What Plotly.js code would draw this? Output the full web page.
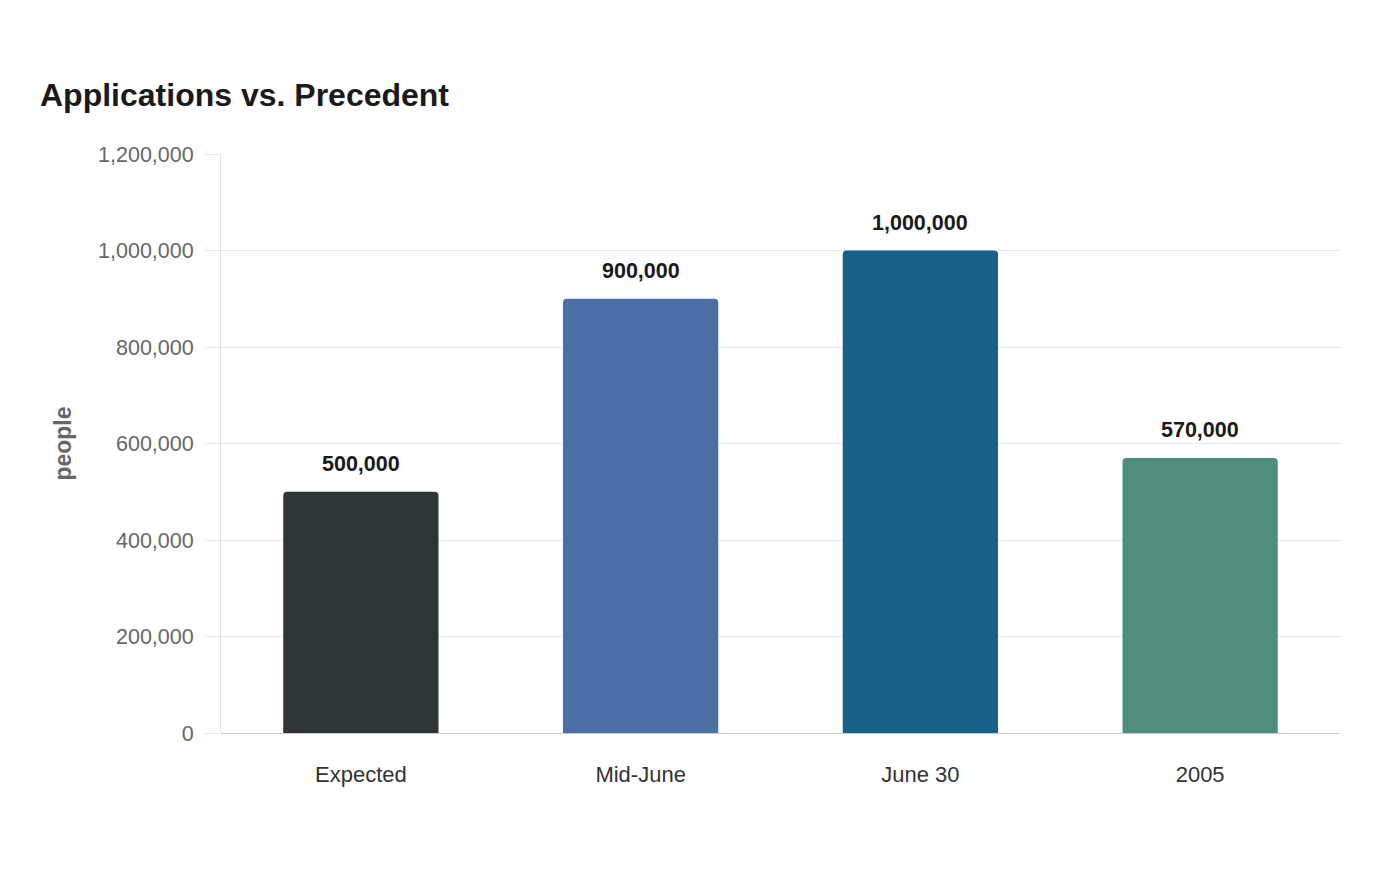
<!DOCTYPE html>
<html>
<head>
<meta charset="utf-8">
<script src="https://cdn.plot.ly/plotly-3.0.1.min.js"></script>
<style>
  html, body { margin: 0; padding: 0; background: #ffffff; }
  #chart { width: 1400px; height: 880px; }
</style>
</head>
<body>
<div id="chart"></div>
<script>
// Application counts compared with the 2005 precedent
const categories = ["Expected", "Mid-June", "June 30", "2005"];
const applicants = [500000, 900000, 1000000, 570000];
const barColors = ["#2d3537", "#4a6fa5", "#176087", "#4f8e7c"];
const yTicks = [0, 200000, 400000, 600000, 800000, 1000000, 1200000];

const fontFamily = '"Liberation Sans", Arial, sans-serif';

const trace = {
  type: "bar",
  x: categories,
  y: applicants,
  marker: { color: barColors, line: { width: 0 } },
  hoverinfo: "x+y"
};

// value labels above each bar (x given as category index)
const valueLabels = categories.map((c, i) => ({
  x: i,
  y: applicants[i],
  xref: "x",
  yref: "y",
  text: applicants[i].toLocaleString("en-US"),
  showarrow: false,
  yanchor: "bottom",
  yshift: 14,
  font: { family: fontFamily, size: 21.5, color: "#1a1a1a", weight: "bold" }
}));

const layout = {
  width: 1400,
  height: 880,
  paper_bgcolor: "#ffffff",
  plot_bgcolor: "#ffffff",
  margin: { l: 221, r: 60, t: 154, b: 147, pad: 0 },
  font: { family: fontFamily, color: "#666666", size: 21.5 },
  title: {
    text: "<b>Applications vs. Precedent</b>",
    x: 40 / 1400,
    xref: "container",
    xanchor: "left",
    y: 1 - 95 / 880,
    yref: "container",
    yanchor: "middle",
    font: { family: fontFamily, size: 32, color: "#1a1a1a" }
  },
  bargap: 0.445,
  barcornerradius: 4,
  showlegend: false,
  xaxis: {
    type: "category",
    categoryorder: "array",
    categoryarray: categories,
    range: [-0.5, categories.length - 0.5],
    autorange: false,
    showgrid: false,
    showline: false,
    zeroline: false,
    ticks: "",
    ticklabelstandoff: 26,
    tickfont: { family: fontFamily, size: 22, color: "#333333" }
  },
  yaxis: {
    range: [0, 1200000],
    autorange: false,
    tickvals: yTicks,
    tickformat: ",",
    showgrid: true,
    gridcolor: "#e8e8e8",
    gridwidth: 1,
    zeroline: true,
    zerolinecolor: "#cccccc",
    zerolinewidth: 1,
    showline: true,
    linecolor: "#e3e3e3",
    linewidth: 1,
    ticks: "outside",
    ticklen: 15,
    tickcolor: "#e8e8e8",
    ticklabelstandoff: 7,
    tickfont: { family: fontFamily, size: 21.5, color: "#666666" },
    automargin: false,
    title: {
      text: "<b>people</b>",
      standoff: 19,
      font: { family: fontFamily, size: 23, color: "#666666" }
    }
  },
  annotations: valueLabels
};

Plotly.newPlot("chart", [trace], layout, { displayModeBar: false, staticPlot: true });
</script>
</body>
</html>
